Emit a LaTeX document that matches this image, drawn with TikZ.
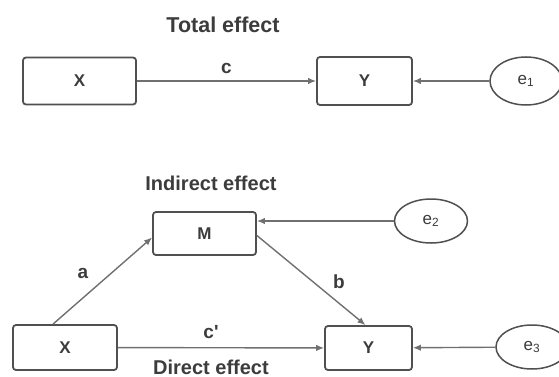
\documentclass[tikz,border=0pt]{standalone}
\usepackage{fontspec}
\setmainfont{Liberation Sans}
\usetikzlibrary{arrows.meta,shapes.geometric}
\definecolor{boxgray}{HTML}{505050}
\definecolor{linegray}{HTML}{707070}
\definecolor{textgray}{HTML}{3C3C3C}
\begin{document}
\begin{tikzpicture}[x=1pt,y=-1pt,
  var/.style={draw=boxgray, line width=1.8pt, rounded corners=3pt, fill=white,
    inner sep=0pt, text=textgray, font=\fontsize{17}{19}\selectfont\bfseries},
  err/.style={ellipse, draw=boxgray, line width=1.5pt, inner sep=0pt, fill=white,
    text=textgray, font=\fontsize{17}{19}\selectfont},
  link/.style={draw=linegray, line width=1.4pt, -{Latex[length=8pt,width=6.5pt]}},
  coef/.style={text=textgray, font=\fontsize{19}{21}\selectfont\bfseries},
  heading/.style={text=textgray, font=\fontsize{20}{22}\selectfont\bfseries}]
\useasboundingbox (0,0) rectangle (559,377);

% total effect model
\node[heading, font=\fontsize{21.5}{23}\selectfont\bfseries] (ttotal) at (223,25) {Total effect};
\node[var, minimum width=113pt, minimum height=47pt] (xt) at (79.5,81) {X};
\node[var, minimum width=95pt, minimum height=48pt] (yt) at (364.5,81) {Y};
\node[err, minimum width=72pt, minimum height=48pt] (e1) at (526,81) {e\textsubscript{1}};
\draw[link] (xt) -- node[coef, above=3pt] (lc) {c} (yt);
\draw[link] (e1) -- (yt);

% mediation model
\node[heading] (tind) at (211,183) {Indirect effect};
\node[heading] (tdir) at (211,367) {Direct effect};
\node[var, minimum width=104pt, minimum height=45pt] (xb) at (65,347.5) {X};
\node[var, minimum width=103pt, minimum height=43pt] (m) at (204.5,233.5) {M};
\node[var, minimum width=87pt, minimum height=44pt] (yb) at (368.5,348) {Y};
\node[err, minimum width=73pt, minimum height=44pt] (e2) at (431,221) {e\textsubscript{2}};
\node[err, minimum width=72pt, minimum height=44pt] (e3) at (532,347) {e\textsubscript{3}};

\draw[link] ([xshift=-12pt]xb.north) -- ([yshift=-4pt]m.west);
\draw[link] ([yshift=-2pt]m.east) -- ([xshift=-3pt]yb.north);
\draw[link] (xb) -- (yb);
\draw[link] (e2.west) -- (e2.west -| m.east);
\draw[link] (e3) -- (yb);

\node[coef] (la) at (83,273) {a};
\node[coef] (lb) at (339,282) {b};
\node[coef] (lcp) at (211,332) {c\textquotesingle};
\end{tikzpicture}
\end{document}
